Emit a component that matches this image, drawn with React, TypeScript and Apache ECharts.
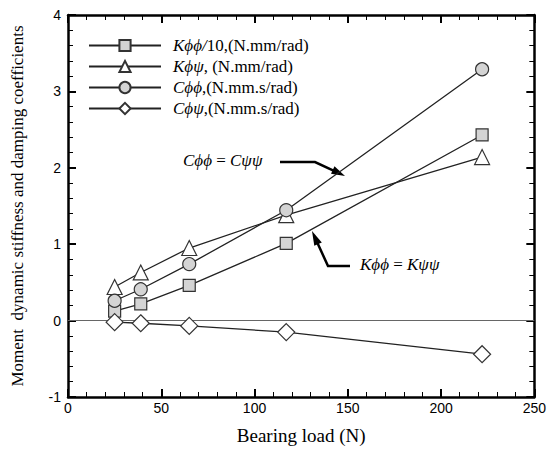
import React, { useEffect, useRef } from "react";
import * as echarts from "echarts";

const loads = [25, 39, 65, 117, 222];
const kphiphi10 = [0.125, 0.22, 0.46, 1.01, 2.43];
const kphipsi = [0.44, 0.63, 0.95, 1.38, 2.14];
const cphiphi = [0.26, 0.41, 0.74, 1.445, 3.29];
const cphipsi = [-0.02, -0.035, -0.07, -0.15, -0.44];

const seriesNames = ["Kϕϕ/10", "Kϕψ", "Cϕϕ", "Cϕψ"];
const legendRich: Record<string, string> = {
  "Kϕϕ/10": "{s|}{i|Kϕϕ/}{n|10,(N.mm/rad)}",
  "Kϕψ": "{s|}{i|Kϕψ}{n|, (N.mm/rad)}",
  "Cϕϕ": "{s|}{i|Cϕϕ}{n|,(N.mm.s/rad)}",
  "Cϕψ": "{s|}{i|Cϕψ}{n|,(N.mm.s/rad)}",
};

const xTicks = { min: 0, max: 250, interval: 50 };
const yTicks = { min: -1, max: 4, interval: 1 };

const SERIF = "'Liberation Serif', 'Times New Roman', serif";
const SANS = "'Liberation Sans', Arial, sans-serif";

function pairs(ys: number[]) {
  return loads.map((x, i) => [x, ys[i]]);
}

export default function App() {
  const ref = useRef<HTMLDivElement>(null);
  useEffect(() => {
    document.body.style.margin = "0";
    if (!ref.current) return;
    const chart = echarts.init(ref.current, undefined, { renderer: "svg" });
    const lineStyle = { color: "#222", width: 1.3 };
    const baseAxisLine = { show: true, onZero: false, lineStyle: { color: "#000", width: 2.5 } };
    const mk = (name: string, ys: number[], symbol: string, size: number, fill: string, extra: any = {}) => ({
      type: "line",
      name,
      data: pairs(ys),
      symbol,
      symbolSize: size,
      showAllSymbol: true,
      lineStyle,
      itemStyle: { color: fill, borderColor: "#333", borderWidth: 1.2 },
      emphasis: { disabled: true },
      z: 3,
      ...extra,
    });
    const rich = {
      s: { width: 7 },
      i: { fontFamily: SERIF, fontStyle: "italic", fontSize: 17, color: "#000", lineHeight: 18 },
      n: { fontFamily: SERIF, fontSize: 17, color: "#000", lineHeight: 18 },
    };
    const annRich = {
      i: { fontFamily: SERIF, fontStyle: "italic", fontSize: 17, color: "#000" },
      n: { fontFamily: SERIF, fontSize: 17, color: "#000" },
    };
    const tick = { inside: true, length: 8, lineStyle: { color: "#000", width: 2 } };
    const minor = { show: true, splitNumber: 5, length: 5, lineStyle: { color: "#000", width: 1 } };
    chart.setOption({
      animation: false,
      backgroundColor: "#fff",
      grid: { left: 68, right: 11, top: 15, bottom: 48 },
      legend: {
        show: true,
        orient: "vertical",
        left: 88,
        top: 37,
        padding: 0,
        itemWidth: 72,
        itemHeight: 14,
        itemGap: 4,
        data: seriesNames,
        formatter: (n: string) => legendRich[n] || n,
        textStyle: { rich, fontFamily: SERIF, fontSize: 17, color: "#000" },
        selectedMode: false,
      },
      xAxis: [
        {
          type: "value",
          ...xTicks,
          position: "bottom",
          name: "Bearing load (N)",
          nameLocation: "middle",
          nameGap: 29,
          nameTextStyle: { fontFamily: SERIF, fontSize: 19, color: "#000" },
          axisLine: baseAxisLine,
          axisTick: tick,
          minorTick: minor,
          axisLabel: { fontFamily: SANS, fontSize: 14, color: "#000", margin: 4 },
          splitLine: { show: false },
        },
        {
          type: "value",
          ...xTicks,
          position: "top",
          axisLine: baseAxisLine,
          axisTick: tick,
          minorTick: minor,
          axisLabel: { show: false },
          splitLine: { show: false },
        },
      ],
      yAxis: [
        {
          type: "value",
          ...yTicks,
          position: "left",
          name: "Moment  dynamic stiffness and damping coefficients",
          nameLocation: "middle",
          nameGap: 42,
          nameTextStyle: { fontFamily: SERIF, fontSize: 17, color: "#000" },
          axisLine: baseAxisLine,
          axisTick: tick,
          minorTick: minor,
          axisLabel: { fontFamily: SANS, fontSize: 14, color: "#000", margin: 7 },
          splitLine: { show: false },
        },
        {
          type: "value",
          ...yTicks,
          position: "right",
          axisLine: baseAxisLine,
          axisTick: tick,
          minorTick: minor,
          axisLabel: { show: false },
          splitLine: { show: false },
        },
      ],
      series: [
        mk(seriesNames[0], kphiphi10, "rect", 12, "#d4d4d4", {
          markLine: {
            silent: true,
            symbol: ["none", "none"],
            label: { show: false },
            lineStyle: { color: "#666", width: 1, type: "solid" },
            data: [{ yAxis: 0 }],
            z: 1,
          },
        }),
        mk(seriesNames[1], kphipsi, "triangle", 15, "#fff"),
        mk(seriesNames[2], cphiphi, "circle", 13, "#d4d4d4"),
        mk(seriesNames[3], cphipsi, "diamond", 17, "#fff"),
      ],
      graphic: [
        {
          type: "text",
          left: 183,
          top: 152,
          style: { text: "{i|Cϕϕ}{n| = }{i|Cψψ}", rich: annRich },
        },
        {
          type: "polyline",
          shape: { points: [[280, 162], [315, 162], [334, 170.8]] },
          style: { stroke: "#000", lineWidth: 2.5, fill: "none" },
        },
        {
          type: "polygon",
          shape: { points: [[345, 176], [331, 173.8], [334.5, 166.3]] },
          style: { fill: "#000" },
        },
        {
          type: "text",
          left: 360,
          top: 256,
          style: { text: "{i|Kϕϕ}{n| = }{i|Kψψ}", rich: annRich },
        },
        {
          type: "polyline",
          shape: { points: [[350, 266], [328, 266], [317, 242]] },
          style: { stroke: "#000", lineWidth: 2.5, fill: "none" },
        },
        {
          type: "polygon",
          shape: { points: [[312, 231], [321.8, 242.5], [314.3, 245.8]] },
          style: { fill: "#000" },
        },
      ],
    });
    return () => chart.dispose();
  }, []);
  return <div ref={ref} style={{ width: 549, height: 450 }} />;
}
